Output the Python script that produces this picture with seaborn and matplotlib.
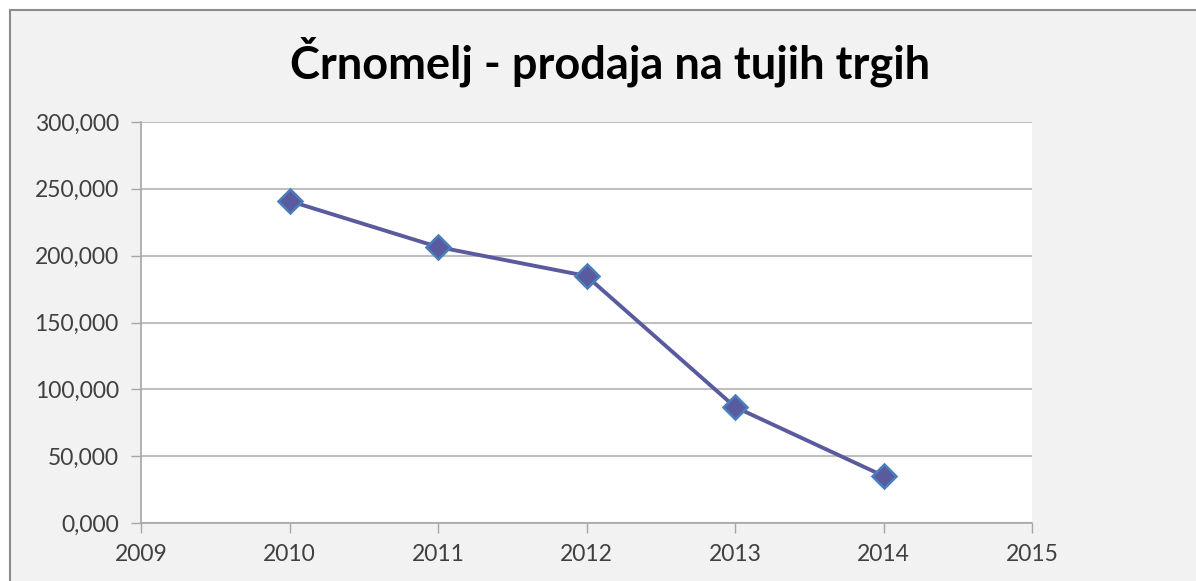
import matplotlib
matplotlib.use('Agg')
import matplotlib.pyplot as plt
import seaborn as sns
import pandas as pd
from matplotlib.patches import Rectangle
from matplotlib.ticker import FuncFormatter

# podatki (odčitano s slike)
leta = [2010, 2011, 2012, 2013, 2014]
prodaja = [240.9, 206.5, 184.8, 86.8, 35.2]

data = pd.DataFrame({'leto': leta, 'prodaja': prodaja})

sns.set_theme(style='white')
plt.rcParams['font.family'] = ['Lato', 'DejaVu Sans']

fig = plt.figure(figsize=(11.96, 5.81), dpi=100)
fig.patch.set_facecolor('white')

# siv okvir grafikona (odrezan desno in spodaj)
W, H = 1196, 581
fig.patches.append(Rectangle((10 / W, -0.2), 1.2, 1.2 - 10 / H, transform=fig.transFigure,
                             facecolor='#f2f2f2', edgecolor='#8c8c8c', linewidth=1.5, zorder=-5))

ax = fig.add_axes([141 / W, 1 - 523 / H, (1032 - 141) / W, (523 - 122) / H])
ax.set_facecolor('white')

sns.lineplot(x='leto', y='prodaja', data=data, ax=ax, color='#5a5a9e', linewidth=2.8,
             marker='D', markersize=12.5, markerfacecolor='#5a5a9e', markeredgecolor='#4a7ebb',
             markeredgewidth=1.8)

ax.set_xlim(2009, 2015)
ax.set_ylim(0, 300)
ax.set_xticks(range(2009, 2016))
ax.set_yticks(range(0, 301, 50))
ax.yaxis.set_major_formatter(FuncFormatter(lambda v, p: f'{v:.3f}'.replace('.', ',')))

ax.grid(axis='y', color='#bfbfbf', linewidth=1.5)
ax.set_axisbelow(True)
for s in ['top', 'right']:
    ax.spines[s].set_visible(False)
for s in ['left', 'bottom']:
    ax.spines[s].set_color('#a6a6a6')
    ax.spines[s].set_linewidth(1.2)

ax.tick_params(axis='both', which='major', length=7, width=1, color='#a6a6a6',
               labelsize=16.5, labelcolor='#404040', direction='out', left=True, bottom=True)
ax.tick_params(axis='y', pad=9)
ax.tick_params(axis='x', pad=8)
ax.set_xlabel('')
ax.set_ylabel('')

fig.text(610 / W, 1 - 62 / H, 'Črnomelj - prodaja na tujih trgih', ha='center', va='center',
         fontsize=32.5, fontweight='bold', color='black')

fig.savefig('out.png', dpi=100)
